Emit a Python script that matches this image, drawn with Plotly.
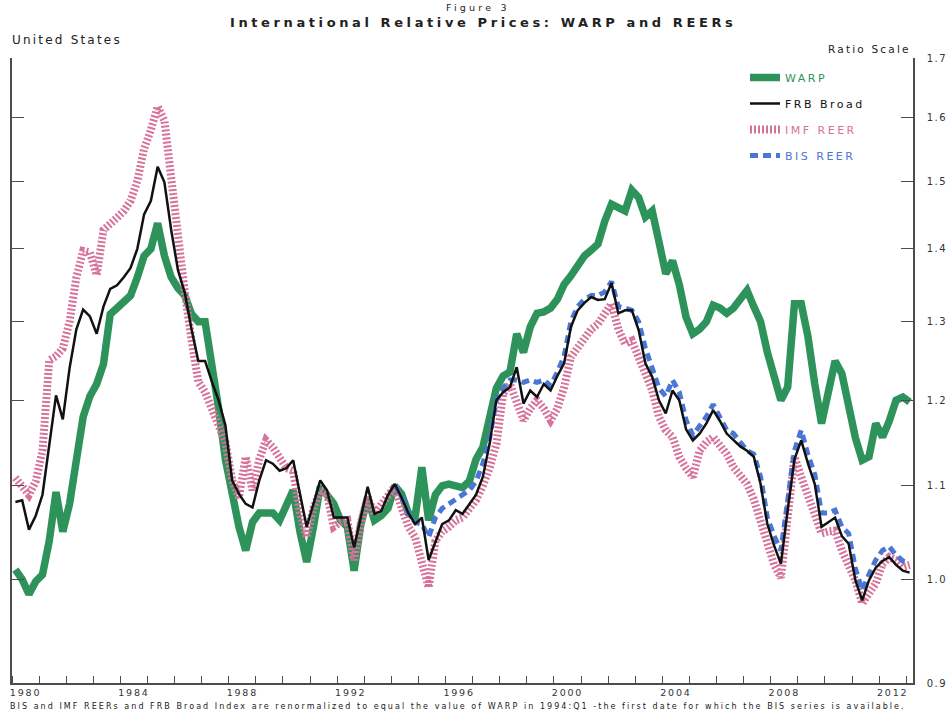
import math
import plotly.graph_objects as go

# ---------------- data (quarterly, 1980Q1 - 2013Q1) ----------------
years = list(range(1980, 2013))
quarters = [f"{y}Q{q}" for y in years for q in (1, 2, 3, 4)] + ["2013Q1"]

warp = [
    1.010, 1.000, 0.985, 0.998,   # 1980
    1.005, 1.040, 1.093, 1.050,   # 1981
    1.080, 1.130, 1.180, 1.205,   # 1982
    1.220, 1.245, 1.310, 1.318,   # 1983
    1.325, 1.335, 1.360, 1.390,   # 1984
    1.400, 1.437, 1.390, 1.360,   # 1985
    1.345, 1.335, 1.310, 1.300,   # 1986
    1.300, 1.250, 1.190, 1.130,   # 1987
    1.090, 1.055, 1.030, 1.060,   # 1988
    1.070, 1.069, 1.070, 1.062,   # 1989
    1.080, 1.095, 1.050, 1.018,   # 1990
    1.055, 1.099, 1.090, 1.080,   # 1991
    1.062, 1.055, 1.009, 1.058,   # 1992
    1.087, 1.062, 1.067, 1.075,   # 1993
    1.100, 1.091, 1.070, 1.065,   # 1994
    1.121, 1.062, 1.090, 1.100,   # 1995
    1.102, 1.100, 1.098, 1.105,   # 1996
    1.130, 1.144, 1.175, 1.215,   # 1997
    1.230, 1.235, 1.284, 1.260,   # 1998
    1.293, 1.311, 1.313, 1.318,   # 1999
    1.330, 1.350, 1.362, 1.377,   # 2000
    1.390, 1.398, 1.407, 1.440,   # 2001
    1.465, 1.460, 1.455, 1.486,   # 2002
    1.475, 1.446, 1.455, 1.410,   # 2003
    1.365, 1.383, 1.350, 1.306,   # 2004
    1.284, 1.290, 1.300, 1.322,   # 2005
    1.318, 1.311, 1.318, 1.330,   # 2006
    1.342, 1.320, 1.300, 1.260,   # 2007
    1.230, 1.200, 1.216, 1.324,   # 2008
    1.324, 1.280, 1.220, 1.172,   # 2009
    1.210, 1.249, 1.233, 1.190,   # 2010
    1.155, 1.129, 1.133, 1.172,   # 2011
    1.156, 1.175, 1.200, 1.204,   # 2012
    1.198,                        # 2013
]

frb_broad = [
    1.082, 1.084, 1.052, 1.067,
    1.090, 1.150, 1.206, 1.177,
    1.240, 1.290, 1.316, 1.307,
    1.284, 1.320, 1.344, 1.349,
    1.360, 1.373, 1.400, 1.450,
    1.470, 1.522, 1.498, 1.427,
    1.370, 1.339, 1.290, 1.249,
    1.249, 1.223, 1.200, 1.170,
    1.106, 1.091, 1.080, 1.076,
    1.106, 1.129, 1.125, 1.117,
    1.120, 1.129, 1.090, 1.055,
    1.080, 1.106, 1.095, 1.065,
    1.065, 1.065, 1.033, 1.066,
    1.099, 1.069, 1.072, 1.090,
    1.102, 1.087, 1.070, 1.058,
    1.065, 1.020, 1.040, 1.058,
    1.062, 1.073, 1.069, 1.080,
    1.090, 1.110, 1.148, 1.200,
    1.210, 1.216, 1.241, 1.196,
    1.212, 1.204, 1.220, 1.212,
    1.230, 1.246, 1.293, 1.315,
    1.325, 1.333, 1.329, 1.330,
    1.352, 1.311, 1.315, 1.315,
    1.289, 1.246, 1.229, 1.200,
    1.184, 1.212, 1.200, 1.165,
    1.152, 1.160, 1.172, 1.188,
    1.175, 1.160, 1.152, 1.145,
    1.140, 1.133, 1.102, 1.058,
    1.035, 1.016, 1.073, 1.130,
    1.152, 1.125, 1.102, 1.055,
    1.060, 1.065, 1.045, 1.037,
    0.999, 0.979, 0.999, 1.012,
    1.019, 1.023, 1.015, 1.009,
    1.007,
]

imf_reer = [
    1.109, 1.101, 1.090, 1.105,
    1.140, 1.250, 1.255, 1.265,
    1.300, 1.360, 1.397, 1.395,
    1.363, 1.427, 1.435, 1.445,
    1.455, 1.470, 1.500, 1.550,
    1.580, 1.618, 1.595, 1.500,
    1.400, 1.340, 1.276, 1.223,
    1.210, 1.189, 1.170, 1.150,
    1.106, 1.087, 1.133, 1.095,
    1.130, 1.152, 1.144, 1.130,
    1.120, 1.117, 1.070, 1.044,
    1.075, 1.095, 1.091, 1.055,
    1.060, 1.062, 1.020, 1.060,
    1.087, 1.069, 1.080, 1.090,
    1.099, 1.076, 1.055, 1.044,
    1.020, 0.992, 1.040, 1.050,
    1.055, 1.062, 1.065, 1.075,
    1.084, 1.100, 1.120, 1.148,
    1.208, 1.220, 1.200, 1.176,
    1.190, 1.200, 1.190, 1.176,
    1.190, 1.216, 1.254, 1.265,
    1.280, 1.290, 1.297, 1.310,
    1.324, 1.290, 1.271, 1.275,
    1.254, 1.230, 1.212, 1.180,
    1.164, 1.156, 1.133, 1.120,
    1.110, 1.140, 1.150, 1.156,
    1.145, 1.136, 1.121, 1.110,
    1.102, 1.085, 1.060, 1.037,
    1.015, 1.002, 1.065, 1.133,
    1.110, 1.087, 1.065, 1.048,
    1.050, 1.051, 1.030, 1.015,
    0.999, 0.976, 0.985, 0.996,
    1.016, 1.023, 1.020, 1.013,
    1.015,
]

bis_start = "1994Q1"
bis_reer = [
    1.100, 1.090, 1.070, 1.060,   # 1994
    1.058, 1.044, 1.065, 1.075,
    1.080, 1.085, 1.090, 1.095,
    1.105, 1.125, 1.155, 1.200,
    1.215, 1.225, 1.225, 1.222,
    1.225, 1.222, 1.225, 1.218,
    1.235, 1.255, 1.300, 1.320,
    1.330, 1.335, 1.335, 1.340,
    1.354, 1.320, 1.318, 1.315,
    1.300, 1.265, 1.240, 1.215,
    1.205, 1.225, 1.210, 1.176,
    1.158, 1.170, 1.180, 1.195,
    1.180, 1.164, 1.160, 1.150,
    1.140, 1.136, 1.110, 1.065,
    1.045, 1.030, 1.084, 1.140,
    1.164, 1.135, 1.113, 1.070,
    1.070, 1.073, 1.055, 1.048,
    1.011, 0.989, 1.005, 1.020,
    1.030, 1.034, 1.025, 1.019,
    1.017,
]

label_years = [1980, 1984, 1988, 1992, 1996, 2000, 2004, 2008, 2012]
y_ticks = [0.9, 1.0, 1.1, 1.2, 1.3, 1.4, 1.5, 1.6, 1.7]

# ---------------- styling ----------------
FONT = "DejaVu Sans"
GREEN = "#2d935a"
PINK = "#d6739b"
BLUE = "#4a76d4"
AXIS = "#4d4d4d"
TXT = "#333333"


def ls(text, sp):
    return f'<span style="letter-spacing:{sp}px">{text}</span>'


def qpos(label):
    y, q = label.split("Q")
    return int(y) + (int(q) - 0.5) / 4


x_all = [qpos(q) for q in quarters]
x_bis = x_all[quarters.index(bis_start):]

fig = go.Figure()

fig.add_trace(go.Scatter(
    x=x_all, y=warp, mode="lines", name=ls(f'<span style="color:{GREEN}">WARP</span>', 2.5),
    line=dict(color=GREEN, width=7.5), legendrank=1, legendgroup="a"))
fig.add_trace(go.Scatter(
    x=x_all, y=imf_reer, mode="lines", name=ls(f'<span style="color:{PINK}">IMF REER</span>', 2.5),
    line=dict(color=PINK, width=8, dash="2px,2px"), legendrank=3, legendgroup="c"))
fig.add_trace(go.Scatter(
    x=x_bis, y=bis_reer, mode="lines", name=ls(f'<span style="color:{BLUE}">BIS REER</span>', 2.5),
    line=dict(color=BLUE, width=5, dash="8px,5px"), legendrank=4, legendgroup="d"))
fig.add_trace(go.Scatter(
    x=x_all, y=frb_broad, mode="lines", name=ls("FRB Broad", 2.5),
    line=dict(color="#111111", width=2.5), legendrank=2, legendgroup="b"))

L, R, T, B = 12, 37, 58, 32
W, H = 950, 715
pw, ph = W - L - R, H - T - B


def px(xp):
    return (xp - L) / pw


def py(yp):
    return (H - B - yp) / ph


fig.update_layout(
    width=W, height=H,
    margin=dict(l=L, r=R, t=T, b=B, pad=0, autoexpand=False),
    paper_bgcolor="white", plot_bgcolor="white",
    font=dict(family=FONT, size=11, color=TXT),
    showlegend=True,
    legend=dict(x=px(745), y=py(63), xanchor="left", yanchor="top",
                bgcolor="rgba(0,0,0,0)", borderwidth=0,
                font=dict(family=FONT, size=11, color="#111111"),
                tracegroupgap=7, itemwidth=30),
    xaxis=dict(
        range=[1980, 2013.25], showgrid=False, zeroline=False, automargin=False,
        showline=True, linecolor=AXIS, linewidth=1.5, mirror=False,
        tickmode="array", tickvals=[y + 0.5 for y in label_years],
        ticktext=[ls(str(y), 1.8) for y in label_years],
        ticks="", ticklabelstandoff=0,
        tickfont=dict(family=FONT, size=9.5, color=TXT),
        minor=dict(tickmode="array", tickvals=list(range(1980, 2014)),
                   ticks="inside", ticklen=7, tickwidth=1.3, tickcolor=AXIS, showgrid=False),
    ),
    yaxis=dict(
        type="log", range=[math.log10(0.9), math.log10(1.7)], side="right",
        showgrid=False, zeroline=False, automargin=False,
        showline=True, linecolor=AXIS, linewidth=1.5, mirror="ticks",
        tickmode="array", tickvals=y_ticks,
        ticktext=[ls(f"{v:.1f}", 1.5) for v in y_ticks],
        ticks="inside", ticklen=12, tickwidth=1.3, tickcolor=AXIS,
        ticklabelstandoff=10,
        tickfont=dict(family=FONT, size=10, color=TXT),
    ),
)

ann = [
    dict(text=ls("Figure 3", 3.2), x=px(478), y=py(8), size=9.5, xa="center"),
    dict(text=ls("<b>International Relative Prices: WARP and REERs</b>", 3.6), x=px(483), y=py(22.5), size=13, xa="center"),
    dict(text=ls("United States", 2.2), x=px(10), y=py(40), size=12, xa="left"),
    dict(text=ls("Ratio Scale", 2.2), x=px(913), y=py(49), size=10.5, xa="right"),
    dict(text=ls("BIS and IMF REERs and FRB Broad Index are renormalized to equal the value of WARP in 1994:Q1 -the first date for which the BIS series is available.", 2.05),
         x=px(8), y=py(706.5), size=8, xa="left"),
]
for a in ann:
    fig.add_annotation(
        text=a["text"], x=a["x"], y=a["y"], xref="paper", yref="paper",
        xanchor=a["xa"], yanchor="middle", showarrow=False,
        font=dict(family=FONT, size=a["size"], color="#222222"))

fig.write_html("out.html")
